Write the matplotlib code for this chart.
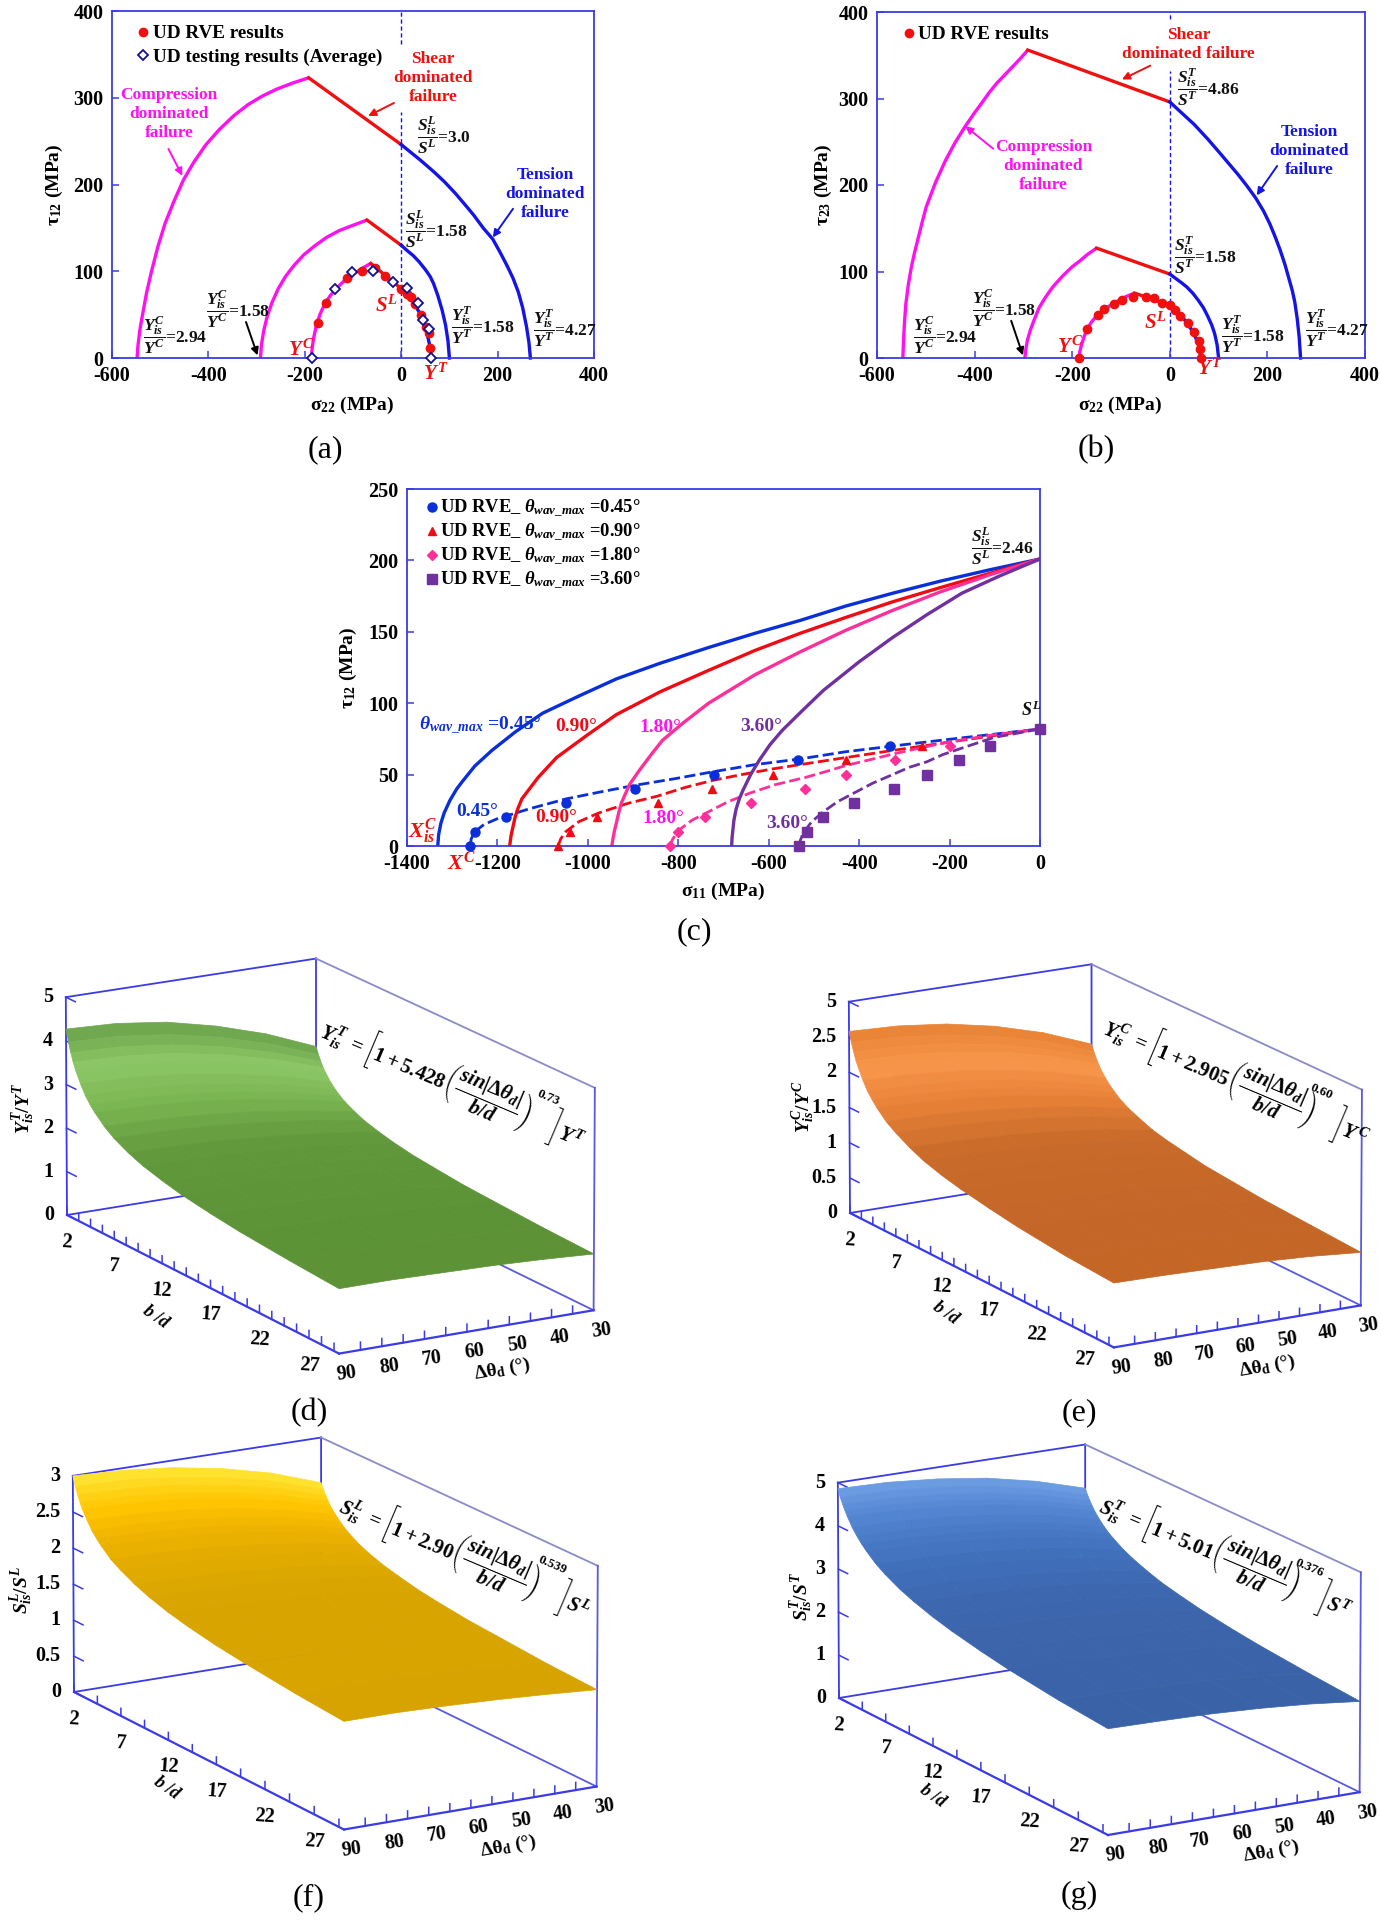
import numpy as np
import matplotlib
matplotlib.use("Agg")
import matplotlib.pyplot as plt
from matplotlib.colors import LinearSegmentedColormap, Normalize
from matplotlib.lines import Line2D
from matplotlib.transforms import IdentityTransform
from mpl_toolkits.mplot3d import proj3d

plt.rcParams.update({
    'font.family': ['Liberation Serif', 'DejaVu Serif'], 'font.weight': 'bold',
    'axes.labelweight': 'bold',
    'mathtext.fontset': 'custom', 'mathtext.rm': 'Liberation Serif:bold',
    'mathtext.it': 'Liberation Serif:italic:bold', 'mathtext.bf': 'Liberation Serif:bold',
    'mathtext.fallback': 'cm', 'axes.unicode_minus': False,
})

# ---------- panel (a) ----------
a_outer_comp_x = [-548,-546,-542,-536,-528,-518,-505,-490,-472,-452,-430,-405,-378,-348,-318,-288,-258,-225,-192]
a_outer_comp_y = [0,15,33,52,76,100,128,155,180,205,226,246,263,279,292,302,310,317,323]
a_outer_shear_x = [-192,0]
a_outer_shear_y = [323,246]
a_outer_tens_x = [0,20,40,67,90,112,132,150,170,190,205,220,232,243,252,260,265,268]
a_outer_tens_y = [246,237,228,215,203,190,177,165,150,137,122,106,92,76,58,36,18,0]
a_mid_comp_x = [-292,-290,-285,-278,-268,-255,-240,-222,-202,-180,-155,-128,-100,-71]
a_mid_comp_y = [0,15,32,48,64,80,94,107,119,129,139,147,153,159]
a_mid_shear_x = [-71,0]
a_mid_shear_y = [159,130]
a_mid_tens_x = [0,12,25,37,50,60,67,76,85,92,97,100]
a_mid_tens_y = [130,124,118,111,102,94,86,72,55,38,20,0]
a_in_comp_x = [-186,-185,-182,-176,-168,-158,-147,-135,-120,-105,-90,-76,-63]
a_in_comp_y = [0,10,22,38,51,63,72,80,88,95,100,105,109]
a_in_shear_x = [-63,0]
a_in_shear_y = [109,80]
a_in_tens_x = [0,8,15,23,30,38,45,51,55,59,61,62]
a_in_tens_y = [80,76,72,66,60,52,42,33,25,15,8,0]
a_rve_x = [-173,-155,-113,-82,-54,-33,0,12,21,28,41,52,57,60]
a_rve_y = [40,63,92,100,104,95,80,74,70,62,50,36,29,12]
a_test_x = [-186,-138,-103,-58,-16,13,34,45,58,62]
a_test_y = [0,80,99,100,88,81,63,44,34,0]

# ---------- panel (b) ----------
b_outer_comp_x = [-547,-546,-544,-541,-536,-530,-523,-515,-507,-499,-480,-460,-440,-419,-402,-385,-370,-354,-337,-320,-305,-291]
b_outer_comp_y = [0,15,38,62,84,104,122,140,158,175,203,228,249,268,282,295,307,318,328,338,347,356]
b_outer_shear_x = [-291,0]
b_outer_shear_y = [356,296]
b_outer_tens_x = [0,25,50,78,104,122,140,158,176,192,205,216,226,236,245,251,256,261,265,268]
b_outer_tens_y = [296,283,270,253,236,224,212,199,185,170,155,140,125,108,90,78,65,46,25,0]
b_mid_comp_x = [-297,-295,-292,-286,-278,-268,-255,-240,-221,-201,-185,-168,-150]
b_mid_comp_y = [0,10,20,32,44,58,70,82,94,105,112,120,127]
b_mid_shear_x = [-150,0]
b_mid_shear_y = [127,97]
b_mid_tens_x = [0,12,24,35,47,58,69,78,86,92,97,100]
b_mid_tens_y = [97,92,87,82,75,67,58,48,38,28,15,0]
b_in_comp_x = [-186,-185,-182,-176,-169,-160,-148,-130,-110,-90,-72]
b_in_comp_y = [0,6,13,24,34,42,50,58,65,71,75]
b_in_shear_x = [-72,0]
b_in_shear_y = [75,61]
b_in_tens_x = [0,10,20,32,43,51,58,62,63]
b_in_tens_y = [61,56,51,43,34,26,17,8,0]
b_rve_x = [-186,-169,-148,-134,-114,-98,-76,-49,-32,-17,0,11,21,37,49,60,62,63]
b_rve_y = [0,33,50,57,62,67,70,71,69,64,61,56,49,41,30,20,10,0]

# ---------- panel (c) ----------
c_s1_x = [-1332,-1330,-1325,-1318,-1305,-1290,-1278,-1250,-1212,-1160,-1100,-1020,-937,-840,-733,-630,-530,-430,-326,-220,-110,0]
c_s1_y = [0,8,16,23,32,40,45,56,67,80,93,105,117,128,139,149,158,168,177,185.5,193.5,201]
c_s2_x = [-1173,-1170,-1166,-1161,-1155,-1146,-1110,-1069,-1000,-937,-840,-733,-630,-530,-430,-326,-220,-110,0]
c_s2_y = [0,7,13,20,26,33,48,62,78,92,108,123,137,149,160,171,181,191,201]
c_s3_x = [-947,-944,-941,-937,-932,-926,-908,-886,-860,-835,-790,-733,-630,-530,-430,-326,-220,-110,0]
c_s3_y = [0,6,11,16,23,30,43,53,64,74,86,100,120,136,151,165,178,190,201]
c_s4_x = [-682,-681,-679,-677,-672,-665,-657,-640,-621,-597,-570,-525,-479,-400,-326,-250,-173,-90,0]
c_s4_y = [0,6,12,18,26,33,39,50,60,71,81,95,109,129,146,162,177,189,201]
c_d1_x = [-1260,-1258,-1250,-1230,-1201,-1130,-1048,-970,-896,-810,-723,-630,-530,-430,-326,-220,-110,0]
c_d1_y = [0,5,10,15,19,26,33,38,42.5,47,52,57,61,66,70,74,78,82]
c_d2_x = [-1066,-1060,-1049,-1020,-977,-910,-845,-785,-723,-660,-591,-510,-428,-345,-260,-130,0]
c_d2_y = [0,5,10,17,23,30,35,41,46,50,54,58,62,66,70,76,82]
c_d3_x = [-819,-812,-799,-770,-733,-690,-642,-585,-519,-475,-428,-375,-321,-260,-199,-100,0]
c_d3_y = [0,5,11,18,24,31,37,43,48,52,56.5,60.5,64.7,69,73,78,82]
c_d4_x = [-532,-530,-524,-505,-479,-448,-412,-370,-326,-290,-250,-215,-178,-140,-102,-50,0]
c_d4_y = [0,4,9,17,24,31,37,44,50,55,59,64,68,72,76,79,82]
c_p1_x = [-1260,-1250,-1181,-1049,-896,-721,-535,-331,0]
c_p2_x = [-1066,-1040,-979,-845,-725,-591,-430,-260,0]
c_p3_x = [-819,-801,-740,-639,-519,-430,-321,-199,0]
c_p4_x = [-532,-516,-481,-411,-324,-250,-179,-110,0]
c_p_y = [0,10,20,30,40,50,60,70,82]

# ---------- surfaces (d)-(g) ----------
bd_vals = [2,2.25,2.5,2.75,3,3.5,4,4.5,5,6,7,8.5,10,12,14,17,20,25,30]
dtheta_vals = [90,78,66,54,42,30]
z_d = [[4.27,4.22,4.07,3.80,3.44,2.97],[4.00,3.95,3.81,3.57,3.24,2.81],[3.78,3.74,3.60,3.38,3.07,2.68],
       [3.59,3.55,3.43,3.22,2.93,2.56],[3.43,3.40,3.28,3.09,2.82,2.47],[3.18,3.14,3.04,2.86,2.62,2.31],
       [2.97,2.94,2.85,2.69,2.47,2.19],[2.81,2.78,2.70,2.55,2.35,2.09],[2.68,2.65,2.57,2.44,2.25,2.01],
       [2.47,2.44,2.37,2.26,2.09,1.89],[2.31,2.29,2.23,2.12,1.98,1.79],[2.14,2.12,2.07,1.97,1.85,1.69],
       [2.01,1.99,1.95,1.87,1.75,1.61],[1.89,1.87,1.83,1.76,1.66,1.53],[1.79,1.78,1.74,1.68,1.59,1.48],
       [1.69,1.68,1.64,1.59,1.51,1.41],[1.61,1.60,1.57,1.52,1.45,1.37],[1.52,1.51,1.49,1.44,1.39,1.31],
       [1.45,1.45,1.42,1.39,1.34,1.27]]
z_e = [[2.58,2.55,2.47,2.33,2.13,1.86],[2.44,2.41,2.33,2.20,2.02,1.77],[2.32,2.29,2.22,2.10,1.92,1.69],
       [2.21,2.19,2.12,2.01,1.84,1.62],[2.13,2.10,2.04,1.93,1.77,1.56],[1.98,1.96,1.90,1.80,1.66,1.47],
       [1.86,1.84,1.79,1.70,1.56,1.39],[1.77,1.75,1.70,1.61,1.49,1.33],[1.69,1.67,1.62,1.54,1.43,1.27],
       [1.56,1.55,1.50,1.43,1.33,1.19],[1.47,1.45,1.41,1.35,1.25,1.13],[1.36,1.34,1.31,1.25,1.17,1.05],
       [1.27,1.26,1.23,1.18,1.10,1.00],[1.19,1.18,1.15,1.10,1.04,.95],[1.13,1.12,1.09,1.05,.99,.90],
       [1.06,1.05,1.02,.99,.93,.86],[1.00,.99,.97,.94,.89,.82],[.93,.93,.91,.88,.83,.78],
       [.89,.88,.86,.84,.80,.74]]
z_f = [[3.00,2.97,2.90,2.78,2.61,2.37],[2.87,2.85,2.78,2.67,2.51,2.29],[2.77,2.75,2.69,2.58,2.43,2.22],
       [2.68,2.66,2.60,2.50,2.35,2.16],[2.60,2.58,2.53,2.43,2.29,2.10],[2.48,2.46,2.41,2.32,2.19,2.02],
       [2.37,2.36,2.31,2.23,2.11,1.95],[2.29,2.27,2.23,2.15,2.04,1.89],[2.22,2.20,2.16,2.09,1.98,1.84],
       [2.10,2.09,2.05,1.98,1.89,1.76],[2.02,2.00,1.97,1.91,1.82,1.70],[1.92,1.90,1.87,1.82,1.74,1.63],
       [1.84,1.83,1.80,1.75,1.67,1.58],[1.76,1.75,1.72,1.68,1.61,1.52],[1.70,1.69,1.67,1.62,1.56,1.48],
       [1.63,1.62,1.60,1.56,1.51,1.43],[1.58,1.57,1.55,1.51,1.46,1.40],[1.51,1.51,1.49,1.46,1.41,1.35],
       [1.46,1.46,1.44,1.41,1.37,1.32]]
z_g = [[4.86,4.83,4.73,4.57,4.32,3.98],[4.69,4.66,4.57,4.41,4.17,3.85],[4.55,4.52,4.43,4.28,4.05,3.74],
       [4.43,4.40,4.31,4.16,3.94,3.64],[4.32,4.29,4.20,4.06,3.85,3.55],[4.13,4.10,4.02,3.89,3.69,3.41],
       [3.98,3.95,3.88,3.75,3.56,3.29],[3.85,3.82,3.75,3.63,3.45,3.19],[3.74,3.71,3.64,3.53,3.35,3.11],
       [3.55,3.53,3.47,3.36,3.20,2.97],[3.41,3.39,3.33,3.23,3.07,2.86],[3.24,3.22,3.17,3.07,2.93,2.73],
       [3.11,3.09,3.04,2.95,2.81,2.62],[2.97,2.95,2.90,2.82,2.69,2.52],[2.86,2.84,2.80,2.71,2.60,2.43],
       [2.73,2.71,2.67,2.59,2.48,2.33],[2.62,2.61,2.57,2.50,2.40,2.25],[2.49,2.48,2.44,2.38,2.28,2.15],
       [2.40,2.38,2.35,2.29,2.20,2.07]]
bd_labels = [2,7,12,17,22,27]
dtheta_labels = [90,80,70,60,50,40,30]

W, H = 1381, 1920
fig = plt.figure(figsize=(W/100, H/100), dpi=100, facecolor='white')

BLUE='#1414e6'; RED='#f01010'; MAG='#ff10f0'; SP='#3a3ae8'

def make_ax(L,R,T,B):
    ax = fig.add_axes([L/W, 1-B/H, (R-L)/W, (B-T)/H])
    for s in ax.spines.values():
        s.set_color(SP); s.set_linewidth(1.3)
    ax.tick_params(direction='in', length=5, width=1.1, color=SP, labelsize=14.5, pad=6,
                   top=False, right=False)
    return ax

def bold_ticks(ax):
    for t in ax.get_xticklabels()+ax.get_yticklabels():
        t.set_fontweight('bold')

def frac(ax, x, y, s, size=12.5):
    ax.text(x, y, s, fontsize=size, ha='left', va='center', color='#111111')

def arrow(ax, p0, p1, c):
    ax.annotate('', xy=p1, xytext=p0,
                arrowprops=dict(arrowstyle='-|>', color=c, lw=1.4, mutation_scale=11, shrinkA=0, shrinkB=0))

def stress_panel(ax, tri, ylab, xl, yl):
    for cx, cy, sx, sy, tx, ty in tri:
        ax.plot(cx, cy, color=MAG, lw=2.4, solid_capstyle='butt', clip_on=False)
        ax.plot(sx, sy, color=RED, lw=2.4)
        ax.plot(tx, ty, color=BLUE, lw=2.4, clip_on=False)
    ax.set_xlim(-600,400); ax.set_ylim(0,400)
    ax.set_xticks(range(-600,401,200)); ax.set_yticks(range(0,401,100))
    ax.set_xlabel('σ$_{22}$ (MPa)', fontsize=14)
    ax.set_ylabel(ylab, fontsize=14)
    ax.xaxis.set_label_coords(.498, -.138); ax.xaxis.label.set_va('center')
    ax.yaxis.set_label_coords(xl, yl); ax.yaxis.label.set_va('center')
    bold_ticks(ax)

# panel a
axa = make_ax(112,594,11,358)
stress_panel(axa, [
    (a_outer_comp_x,a_outer_comp_y,a_outer_shear_x,a_outer_shear_y,a_outer_tens_x,a_outer_tens_y),
    (a_mid_comp_x,a_mid_comp_y,a_mid_shear_x,a_mid_shear_y,a_mid_tens_x,a_mid_tens_y),
    (a_in_comp_x,a_in_comp_y,a_in_shear_x,a_in_shear_y,a_in_tens_x,a_in_tens_y)],
    'τ$_{12}$ (MPa)', -.12, .5)
axa.plot([0,0],[362,400], color=BLUE, lw=1, ls=(0,(3,2)))
axa.plot([0,0],[0,284], color=BLUE, lw=1, ls=(0,(3,2)), zorder=1)
h1, = axa.plot(a_rve_x, a_rve_y, 'o', color=RED, ms=6, ls='none', zorder=4, label='UD RVE results')
h2, = axa.plot(a_test_x, a_test_y, 'D', mfc='white', mec='#101090', mew=1.3, ms=5, ls='none', zorder=5,
               clip_on=False, label='UD testing results (Average)')
axa.legend(handles=[h1,h2], loc='upper left', bbox_to_anchor=(.045,.96), frameon=False, fontsize=13.8,
           handletextpad=0.0, labelspacing=.32, borderpad=0, handlelength=1.0, borderaxespad=0)
axa.text(66,323,'Shear\ndominated\nfailure',color=RED,fontsize=12.5,ha='center',va='center',linespacing=1.25)
axa.text(-482,281,'Compression\ndominated\nfailure',color=MAG,fontsize=12.5,ha='center',va='center',linespacing=1.25)
axa.text(298,189,'Tension\ndominated\nfailure',color=BLUE,fontsize=12.5,ha='center',va='center',linespacing=1.25)
arrow(axa,(-15,294),(-68.5,279),RED); arrow(axa,(-483,241),(-454,210),MAG)
arrow(axa,(232,172),(190,139),BLUE); arrow(axa,(-322,41.5),(-298,3),'black')
frac(axa,33,257,r'$\dfrac{S_{is}^{L}}{S^{L}}$=3.0')
frac(axa,7.5,149,r'$\dfrac{S_{is}^{L}}{S^{L}}$=1.58')
frac(axa,103,38,r'$\dfrac{Y_{is}^{T}}{Y^{T}}$=1.58')
frac(axa,274,34,r'$\dfrac{Y_{is}^{T}}{Y^{T}}$=4.27')
frac(axa,-535,26,r'$\dfrac{Y_{is}^{C}}{Y^{C}}$=2.94')
frac(axa,-404,56,r'$\dfrac{Y_{is}^{C}}{Y^{C}}$=1.58')
for x,y,s in [(-30,60,r'$S^{L}$'),(-207,9,r'$Y^{C}$'),(71,-19,r'$Y^{T}$')]:
    axa.text(x,y,s,color=RED,fontsize=15,ha='center',va='center')

# panel b
axb = make_ax(877,1365,12,358)
stress_panel(axb, [
    (b_outer_comp_x,b_outer_comp_y,b_outer_shear_x,b_outer_shear_y,b_outer_tens_x,b_outer_tens_y),
    (b_mid_comp_x,b_mid_comp_y,b_mid_shear_x,b_mid_shear_y,b_mid_tens_x,b_mid_tens_y),
    (b_in_comp_x,b_in_comp_y,b_in_shear_x,b_in_shear_y,b_in_tens_x,b_in_tens_y)],
    'τ$_{23}$ (MPa)', -.109, .5)
axb.plot([0,0],[392,400], color=BLUE, lw=1, ls=(0,(3,2)))
axb.plot([0,0],[0,332], color=BLUE, lw=1, ls=(0,(3,2)), zorder=1)
h3, = axb.plot(b_rve_x, b_rve_y, 'o', color=RED, ms=6, ls='none', zorder=4, clip_on=False, label='UD RVE results')
axb.legend(handles=[h3], loc='upper left', bbox_to_anchor=(.045,.96), frameon=False, fontsize=13.8,
           handletextpad=0.0, borderpad=0, handlelength=1.0, borderaxespad=0)
axb.text(39,362,'Shear\ndominated failure',color=RED,fontsize=12.5,ha='center',va='center',linespacing=1.25)
axb.text(-259,222,'Compression\ndominated\nfailure',color=MAG,fontsize=12.5,ha='center',va='center',linespacing=1.25)
axb.text(285,239,'Tension\ndominated\nfailure',color=BLUE,fontsize=12.5,ha='center',va='center',linespacing=1.25)
arrow(axb,(-40,338),(-98,322),RED); arrow(axb,(-362,242),(-419,268),MAG)
arrow(axb,(220,222),(178,188),BLUE); arrow(axb,(-325,43),(-301,3),'black')
frac(axb,14,313,r'$\dfrac{S_{is}^{T}}{S^{T}}$=4.86')
frac(axb,8,119,r'$\dfrac{S_{is}^{T}}{S^{T}}$=1.58')
frac(axb,105,27,r'$\dfrac{Y_{is}^{T}}{Y^{T}}$=1.58')
frac(axb,277,34,r'$\dfrac{Y_{is}^{T}}{Y^{T}}$=4.27')
frac(axb,-526,26,r'$\dfrac{Y_{is}^{C}}{Y^{C}}$=2.94')
frac(axb,-406,57,r'$\dfrac{Y_{is}^{C}}{Y^{C}}$=1.58')
for x,y,s in [(-30,40,r'$S^{L}$'),(-205,13,r'$Y^{C}$'),(81,-13,r'$Y^{T}$')]:
    axb.text(x,y,s,color=RED,fontsize=15,ha='center',va='center')

# panel c
axc = make_ax(407,1040,489,846)
CB='#0a2fd8'; CR='#f00a14'; CP='#ff2f9a'; CV='#7030a0'
dash=(0,(4,1.6))
for (sx,sy,dx,dy,px,mk,c,ms) in [(c_s1_x,c_s1_y,c_d1_x,c_d1_y,c_p1_x,'o',CB,6.5),
                                 (c_s2_x,c_s2_y,c_d2_x,c_d2_y,c_p2_x,'^',CR,6),
                                 (c_s3_x,c_s3_y,c_d3_x,c_d3_y,c_p3_x,'D',CP,5.5),
                                 (c_s4_x,c_s4_y,c_d4_x,c_d4_y,c_p4_x,'s',CV,6.5)]:
    axc.plot(sx,sy,color=c,lw=2.4)
    axc.plot(dx,dy,color=c,lw=2.0,ls=dash)
    axc.plot(px,c_p_y,mk,color=c,ms=ms,ls='none',clip_on=False,zorder=4)
axc.set_xlim(-1400,0); axc.set_ylim(0,250)
axc.set_xticks(range(-1400,1,200)); axc.set_yticks(range(0,251,50))
axc.set_xlabel('σ$_{11}$ (MPa)', fontsize=14); axc.set_ylabel('τ$_{12}$ (MPa)', fontsize=14)
axc.xaxis.set_label_coords(.50,-.126); axc.xaxis.label.set_va('center')
axc.yaxis.set_label_coords(-.092,.5); axc.yaxis.label.set_va('center')
bold_ticks(axc)
leg=[Line2D([],[],marker=m,color=c,ls='none',ms=s) for m,c,s in [('o',CB,6.5),('^',CR,6),('D',CP,5.5),('s',CV,6.5)]]
labs=[r'UD RVE_ $\theta_{wav\_max}$ =%s°'%v for v in ['0.45','0.90','1.80','3.60']]
axc.legend(leg,labs,loc='upper left',bbox_to_anchor=(.026,.975),frameon=False,fontsize=13.3,
           handletextpad=0.0,labelspacing=.1,borderpad=0,handlelength=.9,borderaxespad=0)
axc.text(-1373,84,r'$\theta_{wav\_max}$ =0.45°',color=CB,fontsize=14,ha='left',va='center')
for x,y,s,c in [(-1026,84,'0.90°',CR),(-840,83,'1.80°',MAG),(-616,84,'3.60°',CV),
                (-1245,24,'0.45°',CB),(-1069,20,'0.90°',CR),(-832,19,'1.80°',MAG),(-560,16,'3.60°',CV)]:
    axc.text(x,y,s,color=c,fontsize=14,ha='center',va='center')
axc.text(-1366,10,r'$X_{is}^{C}$',color=RED,fontsize=16,ha='center',va='center')
axc.text(-1280,-12,r'$X^{C}$',color=RED,fontsize=16,ha='center',va='center')
axc.text(-20,95,r'$S^{L}$',color='#111111',fontsize=13,ha='center',va='center')
frac(axc,-153,210,r'$\dfrac{S_{is}^{L}}{S^{L}}$=2.46')

# surfaces
def pix(ax,x,y,z):
    X,Y,_=proj3d.proj_transform(x,y,z,ax.get_proj())
    return ax.transData.transform((X,Y))

def surface_panel(Z, zmax, zticks, zlabels, lb, rb, colors, ylab, ylab_xy, bdxy, dtxy, formula, fxy, expo, exy, bstep, fsize=15):
    ax = fig.add_axes([0,0,.4,.4*W/H], projection='3d')
    ax.patch.set_alpha(0); ax.set_axis_off()
    ax.computed_zorder=False
    ax.set_proj_type('persp', focal_length=4.0)
    ax.view_init(elev=16.3, azim=60)
    ax.set_box_aspect((291,550,229))
    ax.set_xlim(30,90); ax.set_ylim(2,30); ax.set_zlim(0,zmax)
    for _ in range(2):
        ax.apply_aspect()
        p0=pix(ax,90,2,0); p1=pix(ax,30,30,0)
        pos=ax.get_position()
        s=np.hypot(*(np.array(rb)-np.array(lb)))/np.hypot(*(p1-p0))
        ax.set_position([pos.x0,pos.y0,pos.width*s,pos.height*s])
    ax.apply_aspect()
    p0=pix(ax,90,2,0); pos=ax.get_position()
    tgt=np.array([lb[0],H-lb[1]])
    d=tgt-p0
    ax.set_position([pos.x0+d[0]/W,pos.y0+d[1]/H,pos.width,pos.height])
    ax.apply_aspect()
    hi='#3a3ae8'; lo='#8a8ac8'
    def seg(a,b,c,lw=1.3): ax.plot(*zip(a,b),color=c,lw=lw,zorder=1)
    seg((90,2,0),(90,2,zmax),hi); seg((90,2,zmax),(30,2,zmax),hi); seg((30,2,0),(30,2,zmax),hi)
    seg((30,2,zmax),(30,30,zmax),lo); seg((30,30,0),(30,30,zmax),'#5a5ae0')
    seg((90,2,0),(30,2,0),hi); seg((30,2,0),(30,30,0),'#5a5ae0')
    seg((90,2,0),(90,30,0),hi,1.6); seg((90,30,0),(30,30,0),hi,1.6)
    tl=zmax*0.035
    for b in np.arange(2,30,bstep):
        ax.plot([90,90],[b,b],[0,tl],color=hi,lw=1.1,zorder=1)
    for t in range(35,90,5):
        ax.plot([t,t],[30,30],[0,tl],color=hi,lw=1.1,zorder=1)
    for zt,lab in zip(zticks,zlabels):
        ax.plot([90,90],[2,3.0],[zt,zt],color=hi,lw=1.1,zorder=1)
        q=pix(ax,90,2,zt)
        fig.text(q[0]-13,q[1],lab,transform=IdentityTransform(),fontsize=14.5,fontweight='bold',ha='right',va='center')
    for b in bd_labels:
        q=pix(ax,90,b,0)
        fig.text(q[0],q[1]-27,str(b),transform=IdentityTransform(),fontsize=14.5,fontweight='bold',ha='center',va='center',rotation=-4)
    for t in dtheta_labels:
        q=pix(ax,t,30,0)
        fig.text(q[0]+8,q[1]-20,str(t),transform=IdentityTransform(),fontsize=14.5,fontweight='bold',ha='center',va='center',rotation=8)
    TH,B=np.meshgrid(dtheta_vals,bd_vals)
    Z=np.array(Z,float)
    cmap=LinearSegmentedColormap.from_list('s',colors)
    rowz=Z.mean(axis=1)
    rowc=cmap(Normalize(rowz.min(),rowz.max())(rowz))
    fc=np.repeat(rowc[:,None,:],Z.shape[1],axis=1)
    surf=ax.plot_surface(TH,B,Z,facecolors=fc,shade=False,rstride=1,cstride=1,linewidth=0.5,
                         antialiased=True,zorder=2)
    surf.set_edgecolor(surf._facecolor3d)
    fig.text(ylab_xy[0]/W,1-ylab_xy[1]/H,ylab,rotation=90,fontsize=14,ha='center',va='center')
    fig.text(bdxy[0]/W,1-bdxy[1]/H,r'$b\ /d$',rotation=-35,fontsize=13,ha='center',va='center')
    fig.text(dtxy[0]/W,1-dtxy[1]/H,r'$\Delta\mathrm{\theta}$$_{\mathrm{d}}$ (°)',rotation=10,fontsize=14,ha='center',va='center')
    fig.text(fxy[0]/W,1-fxy[1]/H,formula,rotation=-23,fontsize=fsize,ha='center',va='center',rotation_mode='anchor')
    fig.text(exy[0]/W,1-exy[1]/H,expo,rotation=-23,fontsize=9.5,ha='center',va='center',rotation_mode='anchor')
    return ax

def form(lhs,c,rhs):
    return (r'$'+lhs+r'\ =\left[1+'+c+r'\left(\dfrac{sin|\Delta\theta_{d}|}{b/d}\right)\ \ \ \ \right]'+rhs+'$')

surface_panel(z_d,5,[0,1,2,3,4,5],['0','1','2','3','4','5'],(67,1215),(594,1308),
              ['#5c9136','#62993c','#7cb853','#8cc665','#6fa84f'],r'$Y_{is}^{T}/Y^{T}$',(24,1108),(156,1317),(502,1370),
              form('Y_{is}^{T}','5.428','Y^{T}'),(453,1084),'0.73',(548,1098),1.25)
surface_panel(z_e,3,[0,.5,1,1.5,2,2.5,3],['0','0.5','1','1.5','2','2.5','5'],(850,1213),(1361,1304),
              ['#c26526','#c86a2a','#e98238','#f7954a','#ea8436'],r'$Y_{is}^{C}/Y^{C}$',(804,1107),(946,1313),(1267,1367),
              form('Y_{is}^{C}','2.905','Y^{C}'),(1237,1081),'0.60',(1321,1092),1.25)
surface_panel(z_f,3,[0,.5,1,1.5,2,2.5,3],['0','0.5','1','1.5','2','2.5','3'],(74,1692),(597,1784),
              ['#d6a300','#d9a500','#eab000','#ffc400','#ffe22e'],r'$S_{is}^{L}/S^{L}$',(22,1590),(167,1788),(508,1847),
              form('S_{is}^{L}','2.90','S^{L}'),(466,1556),'0.539',(552,1565),2.5)
surface_panel(z_g,5,[0,1,2,3,4,5],['0','1','2','3','4','5'],(839,1698),(1360,1790),
              ['#3a62a6','#3c66ae','#4271bd','#4f82cf','#6b9be0'],r'$S_{is}^{T}/S^{T}$',(802,1596),(933,1796),(1271,1852),
              form('S_{is}^{T}','5.01','S^{T}'),(1226,1556),'0.376',(1309,1568),2.5)

for x,y,s in [(325,450,'(a)'),(1096,450,'(b)'),(694,932,'(c)'),(309,1413,'(d)'),
              (1079,1413,'(e)'),(309,1898,'(f)'),(1079,1895,'(g)')]:
    fig.text(x/W,1-y/H,s,fontsize=23,fontweight='normal',ha='center',va='center')

fig.savefig('out.png',dpi=100,facecolor='white')
